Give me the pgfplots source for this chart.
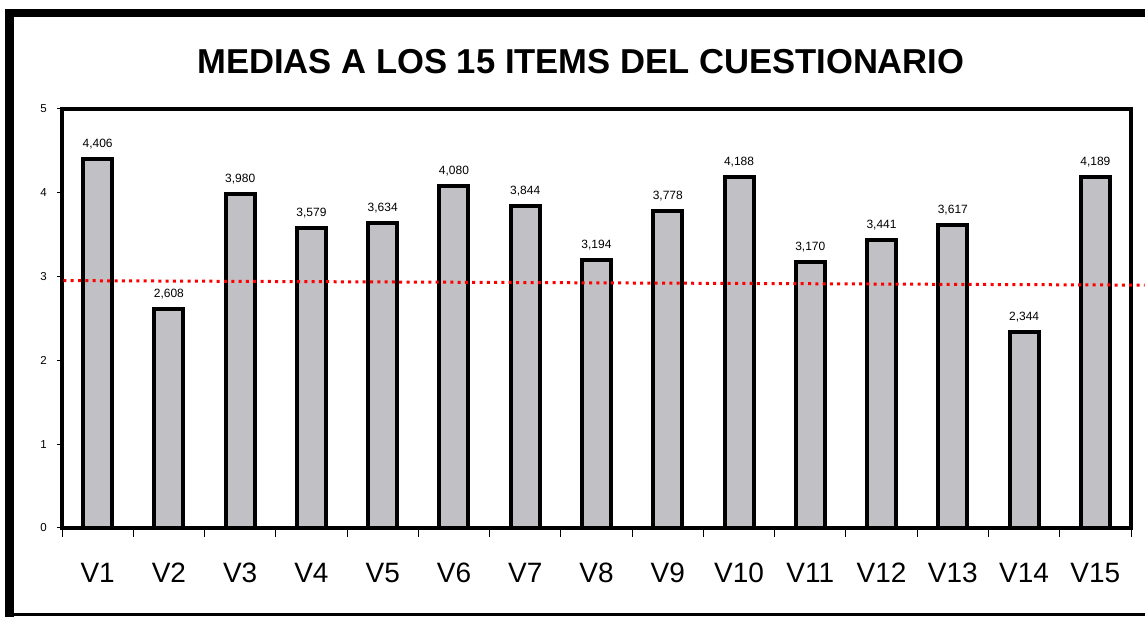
\documentclass[border=0pt]{standalone}
\usepackage{pgfplots}
\pgfplotsset{compat=1.18}
\usepackage{pgfplotstable}
\usepackage{fontspec}
\setmainfont{Liberation Sans}
\definecolor{bargray}{RGB}{193,192,196}
\pgfplotstableread{
x y lab
1 4.406 4,406
2 2.608 2,608
3 3.980 3,980
4 3.579 3,579
5 3.634 3,634
6 4.080 4,080
7 3.844 3,844
8 3.194 3,194
9 3.778 3,778
10 4.188 4,188
11 3.170 3,170
12 3.441 3,441
13 3.617 3,617
14 2.344 2,344
15 4.189 4,189
}\datatable
\begin{document}
\begin{tikzpicture}[x=1pt,y=1pt]
\useasboundingbox (0,0) rectangle (1145,617);
\fill[black] (5,0) rectangle (14,608);
\fill[black] (5,600) rectangle (1145,608);
\fill[black] (5,1) rectangle (1145,4);
\node[anchor=base,font=\bfseries\fontsize{34.6}{40}\selectfont] at (581,543) {MEDIAS A LOS 15 ITEMS DEL CUESTIONARIO};
\begin{axis}[
  at={(62pt,89pt)}, anchor=south west,
  scale only axis, width=1069pt, height=419pt,
  xmin=0.5, xmax=15.5, ymin=0, ymax=5,
  axis line style={line width=3.5pt},
  clip=false,
  tick align=outside,
  xtick pos=bottom, ytick pos=left,
  ytick={0,1,2,3,4,5},
  major tick length=5pt,
  minor tick length=9pt,
  xtick={1,...,15},
  xticklabels={V1,V2,V3,V4,V5,V6,V7,V8,V9,V10,V11,V12,V13,V14,V15},
  major x tick style={draw=none},
  minor xtick={0.5,1.5,...,15.5},
  minor x tick style={line width=1pt,black},
  major y tick style={line width=1pt,black},
  /pgf/number format/assume math mode=true,
  yticklabel style={font=\fontsize{11.5}{13}\selectfont, inner sep=0pt, xshift=-10pt},
  xticklabel style={font=\fontsize{28}{32}\selectfont, inner sep=0pt, anchor=north, yshift=-30pt},
]
\addplot[ybar, bar width=29pt, fill=bargray, draw=black, line width=4pt,
  nodes near coords, point meta=explicit symbolic,
  every node near coord/.append style={font=\fontsize{12}{14}\selectfont, anchor=base, inner sep=0pt, yshift=11.5pt, line width=0pt, black}]
  table[x=x, y=y, meta=lab] {\datatable};
\addplot[red, line width=3pt, dash pattern=on 3pt off 4.3pt] coordinates {(0.52,2.952) (15.69,2.898)};
\end{axis}
\end{tikzpicture}
\end{document}
